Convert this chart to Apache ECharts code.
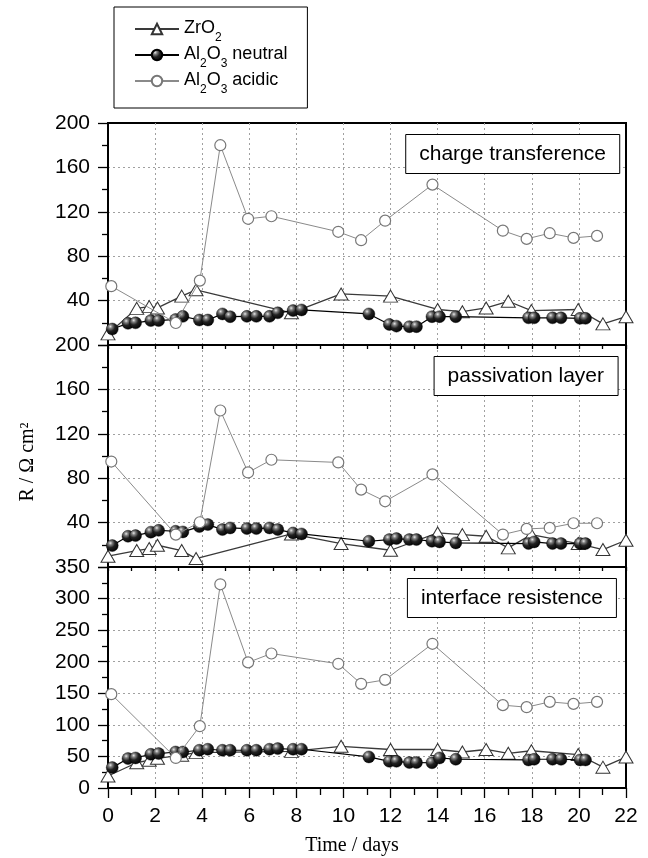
<!DOCTYPE html>
<html>
<head>
<meta charset="utf-8">
<script src="https://cdn.jsdelivr.net/npm/echarts@6/dist/echarts.min.js"></script>
<style>
  html, body { margin: 0; padding: 0; background: #fff; }
  #chart { width: 648px; height: 858px; }
</style>
</head>
<body>
<div id="chart"></div>
<script>
// ZrO2 (open triangles)
const zrDays = [0, 1.22, 1.75, 2.1, 3.13, 3.74, 7.79, 9.9, 12.0, 14.0, 15.05, 16.06, 17.0, 17.98, 19.97, 21.02, 22]
const zrCharge = [10, 33, 34.6, 33.4, 44, 49.7, 29, 46, 44, 32, 30, 33.4, 39.4, 31, 32, 19, 25.5]
const zrPassiv = [9.7, 14.8, 16.6, 19.6, 14.8, 7.6, 29.8, 21.1, 15.1, 30.7, 29.2, 27.7, 17.2, 29.2, 21.1, 15.7, 24.1]
const zrInterf = [19, 40, 44, 47, 52, 56, 58, 66, 61, 61, 57, 61, 55, 59, 53, 33, 49]

// Al2O3 neutral (black spheres, measured in pairs)
const neuDays = [0.18, 0.85, 1.17, 1.82, 2.15, 2.87, 3.18, 3.88, 4.24, 4.86, 5.19, 5.9, 6.3, 6.86, 7.21, 7.86, 8.22,
  11.08, 11.95, 12.25, 12.8, 13.1, 13.76, 14.08, 14.77, 17.86, 18.1, 18.88, 19.24, 20.05, 20.28]
const neuCharge = [14.4, 19.5, 20, 22, 22, 23, 25.8, 22.5, 22.5, 28, 25.5, 25.8, 25.8, 25.8, 29, 31, 31.6,
  28, 18.5, 17, 16.5, 16.5, 25.5, 25.5, 25.5, 24.5, 24.5, 24.5, 24.5, 24, 24]
const neuPassiv = [19.3, 27.7, 28.3, 31.4, 33, 32.2, 31.6, 36.4, 38.2, 33.7, 35.2, 34.6, 34.6, 35.2, 33.7, 30.7, 29.8,
  23.2, 24.7, 25.6, 24.7, 24.7, 23.2, 22.6, 21.7, 21.1, 22.6, 21.1, 21.1, 21.1, 21.1]
const neuInterf = [32.3, 46.6, 47.6, 53.4, 54.5, 57, 57, 59.8, 61.4, 59.8, 59.8, 59.8, 59.8, 61.4, 62.4, 61.4, 61.4,
  49.2, 42.3, 42.3, 40.3, 40.3, 40, 47.6, 45.5, 44.4, 45.5, 45.5, 45.5, 44.4, 44.4]

// Al2O3 acidic (open circles)
const acidDays = [0.14, 2.88, 3.9, 4.77, 5.95, 6.94, 9.78, 10.75, 11.77, 13.78, 16.77, 17.78, 18.76, 19.77, 20.77]
const acidCharge = [53, 19.8, 58, 180, 113.7, 116, 102, 94.4, 112, 144.5, 103, 95.6, 100.7, 96.5, 98.3]
const acidPassiv = [95, 29.2, 40.3, 141, 85.2, 96.6, 94.2, 69.7, 59.2, 83.4, 29.2, 34.3, 35.2, 39.4, 39.4]
const acidInterf = [148.6, 47.6, 97.9, 322.6, 198.9, 213, 196.7, 165, 171.3, 228.4, 131.2, 128, 136.4, 133.2, 136.4]

const panelTitles = ['charge transference', 'passivation layer', 'interface resistence']
const yMax = [200, 200, 350]
const yStep = [40, 40, 50]
const xTicks = { min: 0, max: 22, interval: 2 }

const seriesNames = ['ZrO2', 'Al2O3 neutral', 'Al2O3 acidic']
const legendText = {
  'ZrO2': '{t|ZrO}{s|2}',
  'Al2O3 neutral': '{t|Al}{s|2}{t|O}{s|3}{t| neutral}',
  'Al2O3 acidic': '{t|Al}{s|2}{t|O}{s|3}{t| acidic}',
}

const sansFont = '"Liberation Sans", Arial, sans-serif'
const serifFont = '"Liberation Serif", "Times New Roman", serif'

const chart = echarts.init(document.getElementById('chart'), null, { renderer: 'canvas' })

const sphere = new echarts.graphic.RadialGradient(0.35, 0.3, 0.75, [
  { offset: 0, color: '#e8e8e8' },
  { offset: 0.2, color: '#808080' },
  { offset: 0.5, color: '#222' },
  { offset: 1, color: '#000' },
])

const styles = {
  'ZrO2': {
    symbol: 'triangle', symbolSize: [14, 12], z: 2,
    lineStyle: { color: '#3a3a3a', width: 1.3 },
    itemStyle: { color: '#fff', borderColor: '#333', borderWidth: 1 },
  },
  'Al2O3 neutral': {
    symbol: 'circle', symbolSize: 12, z: 3,
    lineStyle: { color: '#000', width: 1.2 },
    itemStyle: { color: sphere, borderColor: '#000', borderWidth: 0.4 },
  },
  'Al2O3 acidic': {
    symbol: 'circle', symbolSize: 11, z: 4,
    lineStyle: { color: '#8a8a8a', width: 1 },
    itemStyle: { color: '#fff', borderColor: '#777', borderWidth: 1.2 },
  },
}

function line(name, days, vals, gi) {
  return Object.assign({
    type: 'line',
    name,
    xAxisIndex: gi,
    yAxisIndex: gi,
    data: days.map((d, i) => [d, vals[i]]),
    showAllSymbol: true,
    animation: false,
    emphasis: { disabled: true },
  }, styles[name])
}

const gridTops = [123, 345, 567]
const gridHeights = [222, 222, 221]

const dotted = {
  show: true, showMinLine: false, showMaxLine: false,
  lineStyle: { color: '#a0a0a0', width: 1, type: [2, 3] },
}

chart.setOption({
  animation: false,
  backgroundColor: '#fff',
  legend: {
    data: seriesNames,
    orient: 'vertical',
    left: 114,
    top: 7,
    padding: [12, 20, 12, 20],
    itemGap: 1,
    itemWidth: 44,
    itemHeight: 13,
    borderColor: '#000',
    borderWidth: 1,
    selectedMode: false,
    formatter: (name) => legendText[name],
    textStyle: {
      fontFamily: sansFont,
      color: '#000',
      rich: {
        t: { fontSize: 18, fontFamily: sansFont, lineHeight: 20, verticalAlign: 'top', color: '#000' },
        s: { fontSize: 12, fontFamily: sansFont, lineHeight: 10, padding: [13, 0, 0, 0], verticalAlign: 'top', color: '#000' },
      },
    },
  },
  title: panelTitles.map((t, i) => ({
    text: t,
    right: [28, 30, 31][i],
    top: gridTops[i] + 11,
    padding: [8, 14],
    borderColor: '#000',
    borderWidth: 1,
    backgroundColor: '#fff',
    textStyle: { fontFamily: sansFont, fontSize: 21, fontWeight: 'normal', color: '#000', lineHeight: 24 },
  })),
  grid: gridTops.map((top, i) => ({
    left: 108, width: 518, top, height: gridHeights[i],
    show: true, borderColor: '#000', borderWidth: 2, backgroundColor: 'transparent',
  })),
  xAxis: [0, 1, 2].map(i => ({
    type: 'value',
    gridIndex: i,
    min: xTicks.min, max: xTicks.max, interval: xTicks.interval,
    axisLine: { show: true, onZero: false, lineStyle: { color: '#000', width: 2 } },
    axisTick: { show: true, length: i === 2 ? 10 : 4, lineStyle: { color: '#000', width: 1.3 } },
    minorTick: { show: true, splitNumber: 2, length: i === 2 ? 7 : 4, lineStyle: { color: '#000', width: 1.3 } },
    axisLabel: { show: i === 2, margin: 18, fontSize: 21, fontFamily: sansFont, color: '#000' },
    splitLine: dotted,
  })),
  yAxis: [0, 1, 2].map(i => ({
    type: 'value',
    gridIndex: i,
    min: 0, max: yMax[i], interval: yStep[i],
    axisLine: { show: true, onZero: false, lineStyle: { color: '#000', width: 2 } },
    axisTick: { show: true, length: 10, lineStyle: { color: '#000', width: 1.3 } },
    minorTick: { show: true, splitNumber: 2, length: 6, lineStyle: { color: '#000', width: 1.3 } },
    axisLabel: { margin: 18, fontSize: 21, fontFamily: sansFont, color: '#000', showMinLabel: i === 2 },
    splitLine: dotted,
  })),
  graphic: [
    {
      type: 'text',
      x: 28, y: 462,
      rotation: Math.PI / 2,
      style: {
        text: 'R / Ω cm²',
        font: '20px ' + serifFont,
        fill: '#000',
        align: 'center',
        verticalAlign: 'middle',
      },
    },
    {
      type: 'text',
      x: 352, y: 846,
      style: {
        text: 'Time / days',
        font: '20px ' + serifFont,
        fill: '#000',
        align: 'center',
        verticalAlign: 'middle',
      },
    },
  ],
  series: [
    line('ZrO2', zrDays, zrCharge, 0),
    line('Al2O3 neutral', neuDays, neuCharge, 0),
    line('Al2O3 acidic', acidDays, acidCharge, 0),
    line('ZrO2', zrDays, zrPassiv, 1),
    line('Al2O3 neutral', neuDays, neuPassiv, 1),
    line('Al2O3 acidic', acidDays, acidPassiv, 1),
    line('ZrO2', zrDays, zrInterf, 2),
    line('Al2O3 neutral', neuDays, neuInterf, 2),
    line('Al2O3 acidic', acidDays, acidInterf, 2),
  ],
})
</script>
</body>
</html>
